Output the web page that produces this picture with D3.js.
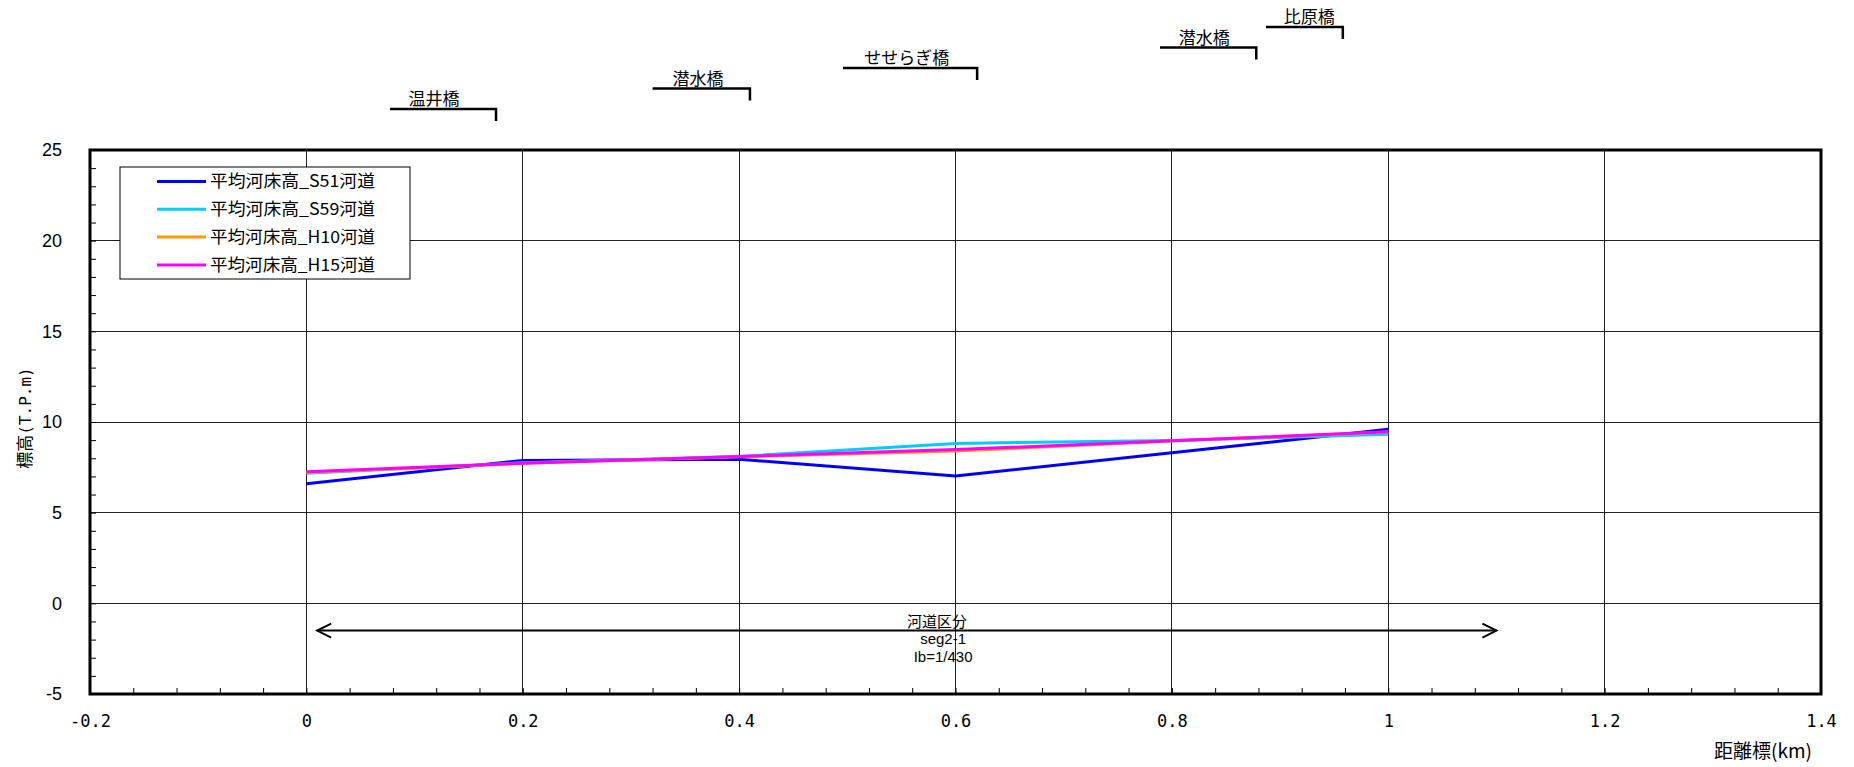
<!DOCTYPE html>
<html>
<head>
<meta charset="utf-8">
<script src="https://cdn.jsdelivr.net/npm/d3@7"></script>
<style>
  html, body { margin: 0; padding: 0; background: #fff; }
  svg { display: block; }
</style>
</head>
<body>
<svg id="chart" width="1854" height="767"></svg>
<script>
// ---- data ----
const km = [0, 0.2, 0.4, 0.6, 0.8, 1.0];
const s51 = [6.6, 7.88, 7.94, 7.02, 8.3, 9.6];
const s59 = [7.17, 7.75, 8.1, 8.82, 8.98, 9.32];
const h10 = [7.22, 7.72, 8.08, 8.4, 8.95, 9.45];
const h15 = [7.25, 7.73, 8.1, 8.48, 8.96, 9.46];
const seriesNames = ['平均河床高_S51河道', '平均河床高_S59河道', '平均河床高_H10河道', '平均河床高_H15河道'];
const seriesValues = [s51, s59, h10, h15];
const seriesColors = ['#0000FF', '#00CCFF', '#FF9900', '#FF00FF'];

const xTicks = [-0.2, 0, 0.2, 0.4, 0.6, 0.8, 1.0, 1.2, 1.4];
const xTickLabels = ['-0.2', '0', '0.2', '0.4', '0.6', '0.8', '1', '1.2', '1.4'];
const yTicks = [-5, 0, 5, 10, 15, 20, 25];
const yTickLabels = ['-5', '0', '5', '10', '15', '20', '25'];
const xTitle = '距離標(km)';
const yTitleCjk = '標高';
const yTitleLatin = '(T.P.m)';

const bridgeNames = ['温井橋', '潜水橋', 'せせらぎ橋', '潜水橋', '比原橋'];
const bridgeKm = [0.1753, 0.410, 0.620, 0.878, 0.958];
const bridgeStartKm = [0.0774, 0.320, 0.496, 0.789, 0.887];
const bridgeLabelKm = [0.118, 0.362, 0.555, 0.830, 0.927];

const segStartKm = 0.01, segEndKm = 1.1, segElev = -1.5, segLabelKm = 0.583;
const segLines = ['河道区分', 'seg2-1', 'Ib=1/430'];

// ---- layout ----
const L = 90, R = 1821, T = 150, B = 694;
const svg = d3.select('#chart');
const x = d3.scaleLinear().domain([-0.2, 1.4]).range([L, R]);
const y = d3.scaleLinear().domain([-5, 25]).range([B, T]);

const CJK = '"Noto Sans CJK JP", "Noto Sans", sans-serif';
const MONO = '"DejaVu Sans Mono", "Liberation Mono", monospace';

// gridlines
const grid = svg.append('g');
grid.selectAll('line.vx').data(xTicks.slice(1, -1)).enter().append('line')
  .attr('x1', d => x(d)).attr('x2', d => x(d)).attr('y1', T).attr('y2', B)
  .attr('stroke', '#222').attr('stroke-width', 1).attr('shape-rendering', 'crispEdges');
grid.selectAll('line.hy').data(yTicks.slice(1, -1)).enter().append('line')
  .attr('x1', L).attr('x2', R).attr('y1', d => y(d)).attr('y2', d => y(d))
  .attr('stroke', '#222').attr('stroke-width', 1).attr('shape-rendering', 'crispEdges');

// minor ticks (inward)
const xMinor = d3.range(-0.2, 1.4001, 0.04);
const yMinor = d3.range(-5, 25.001, 1);
svg.append('g').attr('transform', `translate(0,${B})`)
  .call(d3.axisBottom(x).tickValues(xMinor).tickSize(-6).tickFormat(''))
  .call(g => g.select('.domain').remove())
  .call(g => g.selectAll('line').attr('stroke', '#000').attr('stroke-width', 1));
svg.append('g').attr('transform', `translate(${L},0)`)
  .call(d3.axisLeft(y).tickValues(yMinor).tickSize(-6).tickFormat(''))
  .call(g => g.select('.domain').remove())
  .call(g => g.selectAll('line').attr('stroke', '#000').attr('stroke-width', 1));

// tick labels
svg.append('g').attr('transform', `translate(0,${B})`)
  .call(d3.axisBottom(x).tickValues(xTicks).tickSize(0).tickPadding(21).tickFormat((d, i) => xTickLabels[i]))
  .call(g => g.select('.domain').remove())
  .call(g => g.selectAll('text').attr('font-family', MONO)
    .attr('font-size', 17).attr('fill', '#000'));
svg.append('g').attr('transform', `translate(${L},0)`)
  .call(d3.axisLeft(y).tickValues(yTicks).tickSize(0).tickPadding(28).tickFormat((d, i) => yTickLabels[i]))
  .call(g => g.select('.domain').remove())
  .call(g => g.selectAll('text').attr('font-family', '"Liberation Sans", Arial, sans-serif')
    .attr('font-size', 18).attr('fill', '#000'));

// series lines
const line = d3.line().x((d, i) => x(km[i])).y(d => y(d));
seriesValues.forEach((vals, k) => {
  svg.append('path').datum(vals)
    .attr('d', line).attr('fill', 'none')
    .attr('stroke', seriesColors[k]).attr('stroke-width', 3)
    .attr('stroke-linejoin', 'round');
});

// frame
svg.append('rect').attr('x', L).attr('y', T).attr('width', R - L).attr('height', B - T)
  .attr('fill', 'none').attr('stroke', '#000').attr('stroke-width', 3);

// segment arrow
const ay = y(segElev);
const ax1 = x(segStartKm), ax2 = x(segEndKm);
const ag = svg.append('g').attr('stroke', '#000').attr('fill', 'none').attr('stroke-width', 2);
ag.append('line').attr('x1', ax1).attr('x2', ax2).attr('y1', ay).attr('y2', ay);
ag.append('path').attr('d', `M${ax1 + 14},${ay - 7} L${ax1},${ay} L${ax1 + 14},${ay + 7}`);
ag.append('path').attr('d', `M${ax2 - 14},${ay - 7} L${ax2},${ay} L${ax2 - 14},${ay + 7}`);
const segX = x(segLabelKm);
svg.append('text').attr('x', segX).attr('y', ay - 4).attr('text-anchor', 'middle')
  .attr('font-family', CJK).attr('font-size', 15).text(segLines[0]);
svg.append('text').attr('x', segX + 6).attr('y', ay + 13).attr('text-anchor', 'middle')
  .attr('font-family', '"Liberation Sans", Arial, sans-serif').attr('font-size', 15).text(segLines[1]);
svg.append('text').attr('x', segX + 6).attr('y', ay + 31).attr('text-anchor', 'middle')
  .attr('font-family', '"Liberation Sans", Arial, sans-serif').attr('font-size', 15).text(segLines[2]);

// bridges
bridgeNames.forEach((name, i) => {
  const ly = 109 - i * 20.5;
  const xe = x(bridgeKm[i]), xs = x(bridgeStartKm[i]);
  svg.append('path').attr('d', `M${xs},${ly} L${xe},${ly} L${xe},${ly + 12}`)
    .attr('fill', 'none').attr('stroke', '#000').attr('stroke-width', 2.5);
  svg.append('text').attr('x', x(bridgeLabelKm[i])).attr('y', ly - 4).attr('text-anchor', 'middle')
    .attr('font-family', CJK).attr('font-size', 17).text(name);
});

// legend
const lg = svg.append('g');
lg.append('rect').attr('x', 120).attr('y', 167).attr('width', 290).attr('height', 112)
  .attr('fill', '#fff').attr('stroke', '#000').attr('stroke-width', 1);
seriesNames.forEach((n, k) => {
  const yy = 181.5 + k * 27.8;
  lg.append('line').attr('x1', 157).attr('x2', 206).attr('y1', yy).attr('y2', yy)
    .attr('stroke', seriesColors[k]).attr('stroke-width', 3);
  lg.append('text').attr('x', 210).attr('y', yy).attr('dy', '0.35em')
    .attr('font-family', CJK).attr('font-size', 17)
    .attr('textLength', 165).attr('lengthAdjust', 'spacingAndGlyphs').text(n);
});

// axis titles
svg.append('text').attr('x', 1812).attr('y', 751).attr('dy', '0.35em').attr('text-anchor', 'end')
  .attr('font-family', CJK).attr('font-size', 19).text(xTitle);
const yt = svg.append('text').attr('transform', 'translate(25,418) rotate(-90)').attr('text-anchor', 'middle')
  .attr('dy', '0.35em').attr('font-size', 17);
yt.append('tspan').attr('font-family', CJK).text(yTitleCjk);
yt.append('tspan').attr('font-family', MONO).attr('font-size', 16).text(yTitleLatin);
</script>
</body>
</html>
